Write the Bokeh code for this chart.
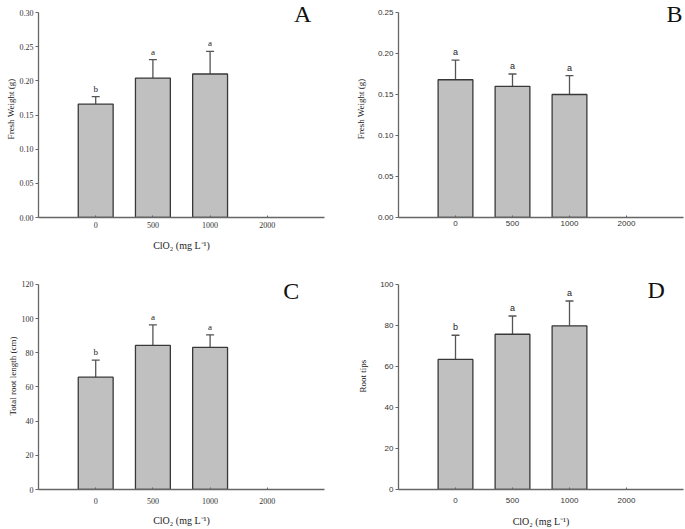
from bokeh.plotting import figure
from bokeh.models import FactorRange, Whisker, ColumnDataSource, Label, FixedTicker, TeeHead, NumeralTickFormatter
from bokeh.layouts import gridplot
from bokeh.embed import file_html
from bokeh.resources import INLINE
from bokeh.core.properties import value

# ---------------- data ----------------
cats = ["0", "500", "1000", "2000"]

fw_a = [0.166, 0.204, 0.210, 0.0]
fw_a_err = [0.011, 0.027, 0.033, 0.0]
fw_a_sig = ["b", "a", "a", ""]

fw_b = [0.168, 0.160, 0.150, 0.0]
fw_b_err = [0.024, 0.015, 0.023, 0.0]
fw_b_sig = ["a", "a", "a", ""]

trl_c = [65.7, 84.3, 83.1, 0.0]
trl_c_err = [10.0, 12.0, 7.4, 0.0]
trl_c_sig = ["b", "a", "a", ""]

rt_d = [63.4, 75.7, 79.8, 0.0]
rt_d_err = [11.8, 8.9, 12.1, 0.0]
rt_d_sig = ["b", "a", "a", ""]

xlabel = "ClO\u2082 (mg L\u207b\u00b9)"

SERIF = "Liberation Serif"
SANS = "Liberation Sans"


def panel(vals, errs, sig, ymax, ystep, fmt, ylab, xlab, letter, letter_xy,
          width, height, bl, br, bb, gap_top, tick_font, x_standoff, xl_standoff,
          yl_standoff):
    # frame spans from the canvas top; the axis itself stops at ymax,
    # gap_top pixels below the frame top
    frame_h = height - bb
    axis_h = frame_h - gap_top
    yend = ymax * frame_h / axis_h
    p = figure(x_range=FactorRange(factors=cats, range_padding=0.5,
                                   range_padding_units="absolute"),
               y_range=(0, yend), width=width, height=height,
               output_backend="svg", toolbar_location=None,
               min_border_left=bl, min_border_right=br,
               min_border_top=0, min_border_bottom=bb)
    p.outline_line_color = None
    p.xgrid.grid_line_color = None
    p.ygrid.grid_line_color = None
    p.background_fill_color = "white"

    bi = [i for i in range(len(cats)) if vals[i] > 0]
    src = ColumnDataSource(dict(x=[cats[i] for i in bi], top=[vals[i] for i in bi]))
    p.vbar(x="x", top="top", width=0.61, source=src, fill_color="#c0c0c0",
           line_color="#383838", line_width=1.3)

    idx = [i for i in range(len(cats)) if errs[i] > 0]
    esrc = ColumnDataSource(dict(
        x=[cats[i] for i in idx],
        lo=[vals[i] for i in idx],
        hi=[vals[i] + errs[i] for i in idx],
        sig=[sig[i] for i in idx]))
    w = Whisker(base="x", lower="lo", upper="hi", source=esrc,
                line_color="#555555", line_width=1.3, lower_head=None,
                upper_head=TeeHead(size=8, line_color="#555555", line_width=1.3))
    p.add_layout(w)
    p.text(x="x", y="hi", text="sig", source=esrc, text_align="center",
           text_baseline="bottom", y_offset=-3, text_font_size="9px",
           text_font=value(tick_font), text_color="#222222")

    # axes
    nt = int(round(ymax / ystep))
    p.yaxis.ticker = FixedTicker(ticks=[round(i * ystep, 6) for i in range(nt + 1)])
    p.yaxis.formatter = NumeralTickFormatter(format=fmt)
    p.yaxis.bounds = (0, ymax)
    for ax in (p.xaxis[0], p.yaxis[0]):
        ax.axis_line_color = "#666666"
        ax.axis_line_width = 1.3
        ax.major_tick_line_color = "#666666"
        ax.minor_tick_line_color = None
        ax.major_label_text_font = tick_font
        ax.major_label_text_font_size = "8px"
        ax.major_label_text_color = "#333333"
        ax.axis_label_text_font = SERIF
        ax.axis_label_text_font_style = "normal"
        ax.axis_label_text_color = "#222222"
    p.yaxis.major_tick_out = 3
    p.yaxis.major_tick_in = 0
    p.yaxis.major_label_standoff = 2
    p.yaxis.axis_label = ylab
    p.yaxis.axis_label_text_font_size = "9px"
    p.yaxis.axis_label_standoff = yl_standoff
    p.xaxis.major_tick_in = 2
    p.xaxis.major_tick_out = 0
    p.xaxis.major_label_standoff = x_standoff
    if xlab:
        p.xaxis.axis_label = xlab
        p.xaxis.axis_label_text_font_size = "10px"
        p.xaxis.axis_label_standoff = xl_standoff

    p.add_layout(Label(x=letter_xy[0], y=letter_xy[1], text=letter,
                       text_font=SERIF, text_font_size="24px",
                       text_align="center", text_baseline="middle",
                       text_color="#111111"))
    return p


pa = panel(fw_a, fw_a_err, fw_a_sig, 0.30, 0.05, "0.00", "Fresh Weight (g)", xlabel,
           "A", (4.12, 0.2985), 342, 262, 38, 18, 45, 12, SERIF, 4, 9, 1)
pb = panel(fw_b, fw_b_err, fw_b_sig, 0.25, 0.05, "0.00", "Fresh Weight (g)", None,
           "B", (4.34, 0.2476), 343, 262, 56, 2, 45, 12, SANS, 3, 8, 9)
pc = panel(trl_c, trl_c_err, trl_c_sig, 120, 20, "0", "Total root length (cm)", xlabel,
           "C", (3.92, 116.0), 342, 267, 38, 18, 39, 22, SERIF, 8, 8, 1)
pd = panel(rt_d, rt_d_err, rt_d_sig, 100, 20, "0", "Root tips", xlabel,
           "D", (4.02, 97.3), 343, 267, 56, 2, 39, 22, SANS, 8, 10, 9)

grid = gridplot([[pa, pb], [pc, pd]], toolbar_location=None)

open("out.html", "w").write(file_html(grid, INLINE))
